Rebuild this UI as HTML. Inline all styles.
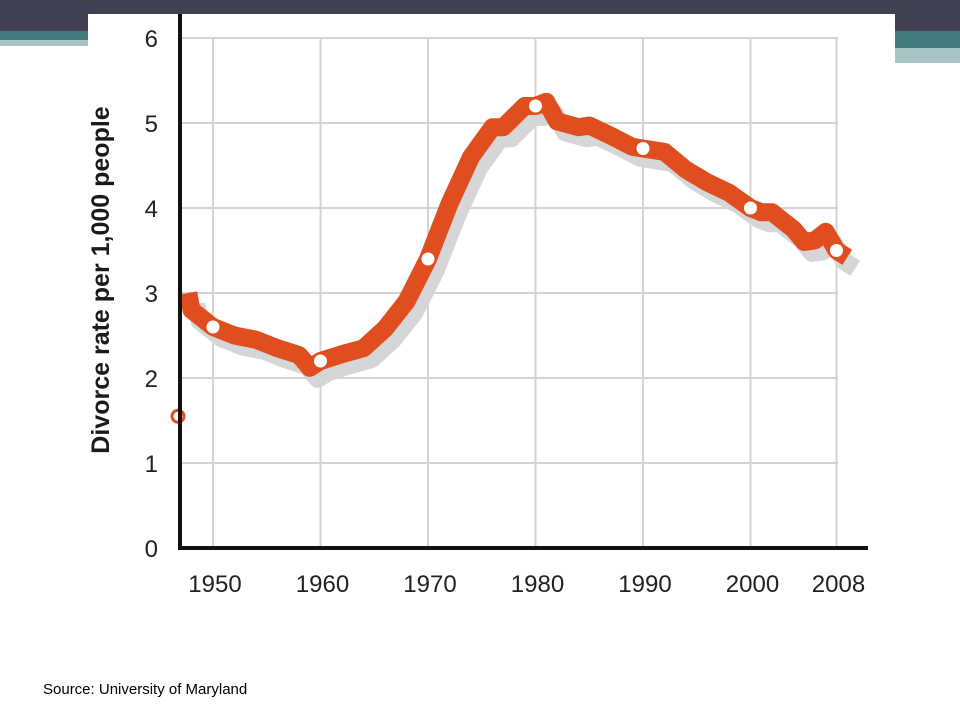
<!DOCTYPE html>
<html><head><meta charset="utf-8"><style>
body{margin:0;width:960px;height:720px;background:#fff;position:relative;overflow:hidden;font-family:"Liberation Sans",sans-serif}
</style></head><body>
<div style="position:absolute;left:0;top:0;width:960px;height:31px;background:#404254"></div>
<div style="position:absolute;left:0;top:31px;width:90px;height:9px;background:#437a7c"></div>
<div style="position:absolute;left:0;top:40px;width:90px;height:6px;background:#a8c4c6"></div>
<div style="position:absolute;left:895px;top:31px;width:65px;height:17px;background:#437a7c"></div>
<div style="position:absolute;left:895px;top:48px;width:65px;height:15px;background:#a8c4c6"></div>
<svg width="960" height="720" style="position:absolute;left:0;top:0">
<rect x="88" y="14" width="807" height="620" fill="#fff"/>
<g id="grid"></g>
<g id="shadow"></g>
<g id="line"></g>
<g id="axes"></g>
<text transform="translate(109,280) rotate(-90)" text-anchor="middle" font-size="25" font-weight="bold" fill="#1a1a1a">Divorce rate per 1,000 people</text>
</svg>
<div style="position:absolute;left:43px;top:681px;font-size:15px;color:#000">Source: University of Maryland</div>
<script>
const years=[1947.7,1948,1950,1952,1954,1956,1958,1959,1960,1962,1964,1966,1968,1970,1972,1974,1976,1977,1979,1980,1981,1982,1984,1985,1987,1989,1990,1992,1994,1996,1998,2000,2001,2002,2004,2005,2006,2007,2008,2009];
const rates=[3.0,2.8,2.6,2.5,2.45,2.35,2.27,2.12,2.2,2.28,2.35,2.58,2.9,3.4,4.05,4.6,4.95,4.95,5.2,5.2,5.25,5.02,4.95,4.97,4.85,4.72,4.7,4.66,4.45,4.3,4.18,4.0,3.95,3.95,3.75,3.6,3.62,3.72,3.5,3.42];
const markerYears=[1950,1960,1970,1980,1990,2000,2008];
const markerRates=[2.6,2.2,3.4,5.2,4.7,4.0,3.5];
const yTicks=[0,1,2,3,4,5,6];
const xTicks=[1950,1960,1970,1980,1990,2000,2008];
const X=y=>213+(y-1950)*10.75;
const Y=v=>548-v*85;
const NS="http://www.w3.org/2000/svg";
function mk(t,a,p){const e=document.createElementNS(NS,t);for(const k in a)e.setAttribute(k,a[k]);p.appendChild(e);return e;}
const grid=document.getElementById('grid'),axes=document.getElementById('axes');
yTicks.forEach(v=>{
 if(v>0){const l=mk('line',{x1:180,x2:838,y1:Y(v),y2:Y(v),stroke:'#d4d4d4','stroke-width':2},grid);
 
 }
 const t=mk('text',{x:158,y:Y(v)+9,'text-anchor':'end','font-size':24,fill:'#222'},axes);t.textContent=v;
 
 
});
xTicks.forEach(v=>{
 const l=mk('line',{x1:X(v),x2:X(v),y1:Y(6),y2:548,stroke:'#d4d4d4','stroke-width':2},grid);
 
 
 const t=mk('text',{x:X(v)+2,y:592,'text-anchor':'middle','font-size':24,fill:'#222'},axes);t.textContent=v;
 
 
});
const ya=mk('line',{x1:180,x2:180,y1:14,y2:550,stroke:'#111','stroke-width':4},axes);


const xa=mk('line',{x1:178,x2:868,y1:548,y2:548,stroke:'#111','stroke-width':4},axes);


const pts=years.map((y,i)=>X(y)+','+Y(rates[i])).join(' ');
const sh=mk('polyline',{points:pts,fill:'none',stroke:'#d6d6d8','stroke-width':18,'stroke-linejoin':'round','stroke-linecap':'butt',transform:'translate(8,11)'},document.getElementById('shadow'));


const ln=mk('polyline',{points:pts,fill:'none',stroke:'#e04e1f','stroke-width':18,'stroke-linejoin':'round','stroke-linecap':'butt'},document.getElementById('line'));


markerYears.forEach((y,i)=>{
 const c=mk('circle',{cx:X(y),cy:Y(markerRates[i]),r:6.5,fill:'#fff'},document.getElementById('line'));
 
 
});
const e=mk('circle',{cx:178,cy:Y(1.55),r:6,fill:'#fff',stroke:'#e04e1f','stroke-width':3},document.getElementById('line'));


</script>
</body></html>
